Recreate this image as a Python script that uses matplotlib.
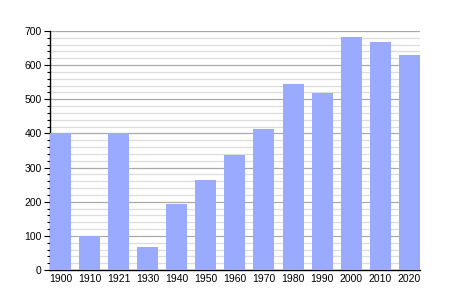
import matplotlib
matplotlib.use("Agg")
import matplotlib.pyplot as plt
from matplotlib.ticker import MultipleLocator

years = ["1900", "1910", "1921", "1930", "1940", "1950", "1960",
         "1970", "1980", "1990", "2000", "2010", "2020"]
population = [400, 99, 400, 67, 194, 264, 337, 413, 545, 519, 683, 668, 630]

plt.rcParams["font.family"] = ["Liberation Sans", "DejaVu Sans"]

fig = plt.figure(figsize=(4.5, 3), dpi=100)
ax = fig.add_axes([0.111, 0.1, 0.822, 0.797])

pos = list(range(len(years)))
ax.bar(pos, population, width=0.722, color="#99aaff", zorder=3)

ax.set_xlim(-0.361, len(years) - 1 + 0.361)
ax.set_ylim(0, 700)
ax.set_xticks(pos)
ax.set_xticklabels(years)
ax.yaxis.set_major_locator(MultipleLocator(100))
ax.yaxis.set_minor_locator(MultipleLocator(20))

ax.grid(axis="y", which="major", color="#aaaaaa", linewidth=0.9, zorder=0)
ax.grid(axis="y", which="minor", color="#dddddd", linewidth=0.9, zorder=0)

for s in ["top", "right"]:
    ax.spines[s].set_visible(False)
ax.spines["left"].set_linewidth(1.0)
ax.spines["bottom"].set_linewidth(1.0)

ax.tick_params(axis="x", length=0, labelsize=7.5, pad=3)
ax.tick_params(axis="y", which="major", length=4, width=0.8, labelsize=7.5, pad=2)
ax.tick_params(axis="y", which="minor", length=2, width=0.8)

fig.savefig("out.png", dpi=100)
